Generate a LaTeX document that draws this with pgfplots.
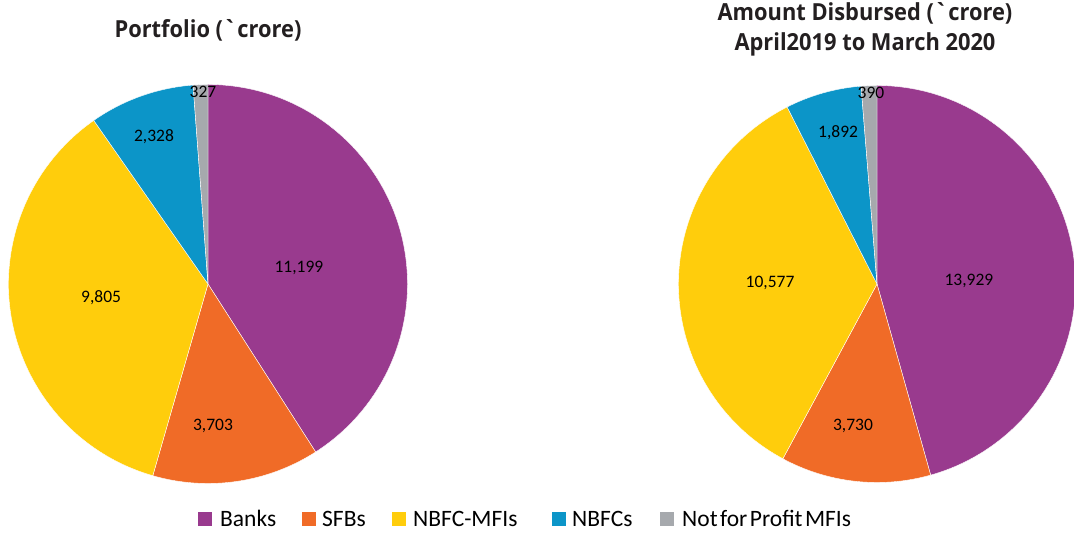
\documentclass[border=0pt]{standalone}
\usepackage{pgfplots}
\usepackage{pgfplotstable}
\pgfplotsset{compat=1.18}
\usepackage{fontspec}
\setmainfont{Carlito}
\newfontfamily\titlefont[FakeStretch=0.93]{Open Sans}
\definecolor{slice0}{HTML}{993A8E}
\definecolor{slice1}{HTML}{F06B27}
\definecolor{slice2}{HTML}{FFCD0C}
\definecolor{slice3}{HTML}{0C95C8}
\definecolor{slice4}{HTML}{A6A9AD}
\definecolor{txt}{HTML}{231F20}
\newcommand\rupee{\XeTeXglyph\XeTeXcharglyph"0060\relax}

% Portfolio (crore)
\pgfplotstableread{
value lx ly label
11199 0.456 0.080 {11,199}
3703 0.025 -0.712 {3,703}
9805 -0.536 -0.070 {9,805}
2328 -0.271 0.737 {2,328}
327 -0.025 0.962 {327}
}\portfolio
% Amount disbursed (crore)
\pgfplotstableread{
value lx ly label
13929 0.463 0.015 {13,929}
3730 -0.121 -0.715 {3,730}
10577 -0.539 0.005 {10,577}
1892 -0.196 0.761 {1,892}
390 -0.030 0.962 {390}
}\disbursed

% compute slice angles (clockwise from top)
\newcommand\pieangles[2]{%
  \gdef\pietotal{0}%
  \pgfplotstableforeachcolumnelement{value}\of#1\as\cell{%
    \pgfmathparse{\pietotal+\cell/1000}\xdef\pietotal{\pgfmathresult}}%
  \gdef\piecum{0}%
  \pgfplotstableforeachcolumnelement{value}\of#1\as\cell{%
    \pgfmathparse{90-\piecum/\pietotal*360}%
    \expandafter\xdef\csname #2s\pgfplotstablerow\endcsname{\pgfmathresult}%
    \pgfmathparse{\piecum+\cell/1000}\xdef\piecum{\pgfmathresult}%
    \pgfmathparse{90-\piecum/\pietotal*360}%
    \expandafter\xdef\csname #2e\pgfplotstablerow\endcsname{\pgfmathresult}}%
}
\pieangles{\portfolio}{L}
\pieangles{\disbursed}{R}

\pgfplotsset{pieaxis/.style={scale only axis, hide axis, anchor=center,
  xmin=-1, xmax=1, ymin=-1, ymax=1, clip=false}}

\begin{document}
\begin{tikzpicture}
\useasboundingbox (0,0) rectangle (1074pt,534pt);
% Left pie
\begin{axis}[pieaxis, at={(208pt,250pt)}, width=399pt, height=399pt]
\pgfplotsinvokeforeach{0,...,4}{%
  \fill[slice#1, draw=white, line width=0.4pt]
    (axis cs:0,0) -- (axis cs:{cos(\csname Ls#1\endcsname)},{sin(\csname Ls#1\endcsname)})
    arc[start angle=\csname Ls#1\endcsname, end angle=\csname Le#1\endcsname, radius=199.5pt] -- cycle;
}
\addplot[draw=none, mark=none, nodes near coords, point meta=explicit symbolic,
  nodes near coords style={anchor=center, inner sep=0pt, font=\fontsize{17.5}{20}\selectfont, text=black}]
  table[x=lx, y=ly, meta=label] {\portfolio};
\end{axis}
% Right pie
\begin{axis}[pieaxis, at={(877pt,250pt)}, width=397pt, height=397pt]
\pgfplotsinvokeforeach{0,...,4}{%
  \fill[slice#1, draw=white, line width=0.4pt]
    (axis cs:0,0) -- (axis cs:{cos(\csname Rs#1\endcsname)},{sin(\csname Rs#1\endcsname)})
    arc[start angle=\csname Rs#1\endcsname, end angle=\csname Re#1\endcsname, radius=198.5pt] -- cycle;
}
\addplot[draw=none, mark=none, nodes near coords, point meta=explicit symbolic,
  nodes near coords style={anchor=center, inner sep=0pt, font=\fontsize{17.5}{20}\selectfont, text=black}]
  table[x=lx, y=ly, meta=label] {\disbursed};
\end{axis}
% Titles
\node[anchor=base, inner sep=0pt, text=txt, font=\titlefont\bfseries\fontsize{23.5}{28}\selectfont]
  at (208pt,496.5pt) {Portfolio (\rupee crore)};
\node[anchor=base, inner sep=0pt, text=txt, font=\titlefont\bfseries\fontsize{23.5}{28}\selectfont]
  at (865pt,513pt) {Amount Disbursed (\rupee crore)};
\node[anchor=base, inner sep=0pt, text=txt, font=\titlefont\bfseries\fontsize{23.5}{28}\selectfont]
  at (865pt,483pt) {April2019 to March 2020};
% Legend
\begin{scope}[every node/.style={anchor=base west, inner sep=0pt, text=black, font=\fontsize{23.5}{27}\selectfont}]
\fill[slice0] (198pt,8.3pt) rectangle (212pt,22.3pt);
\node at (220pt,7.5pt) {Banks};
\fill[slice1] (302pt,8.3pt) rectangle (316pt,22.3pt);
\node at (322pt,7.5pt) {SFBs};
\fill[slice2] (392pt,8.3pt) rectangle (406pt,22.3pt);
\node at (413pt,7.5pt) {NBFC-MFIs};
\fill[slice3] (552pt,8.3pt) rectangle (566pt,22.3pt);
\node at (572pt,7.5pt) {NBFCs};
\fill[slice4] (660pt,8.3pt) rectangle (674pt,22.3pt);
\node at (682pt,7.5pt) {Not\hspace{2.5pt}for\hspace{2.5pt}Profit\hspace{2.5pt}MFIs};
\end{scope}
\end{tikzpicture}
\end{document}
